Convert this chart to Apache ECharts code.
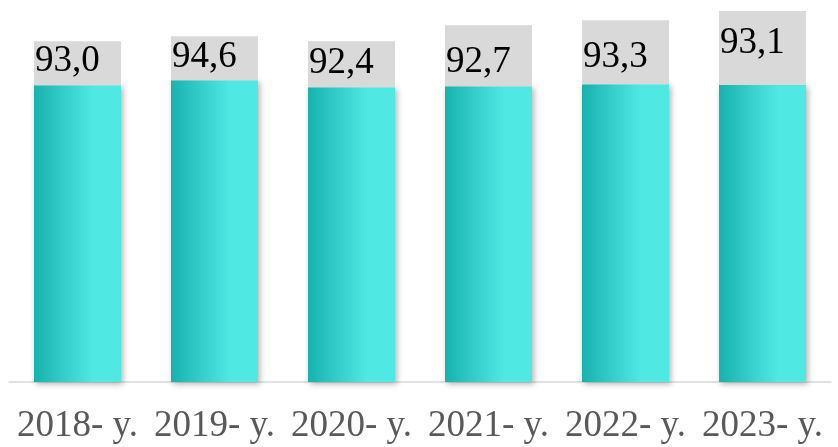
<!DOCTYPE html>
<html>
<head>
<meta charset="utf-8">
<script src="https://cdn.jsdelivr.net/npm/echarts@6/dist/echarts.min.js"></script>
<style>html,body{margin:0;padding:0;background:#fff;}#c{width:838px;height:447px;}</style>
</head>
<body>
<div id="c"></div>
<script>
const categories = ['2018- y.', '2019- y.', '2020- y.', '2021- y.', '2022- y.', '2023- y.'];
const values = [93.0, 94.6, 92.4, 92.7, 93.3, 93.1];

// label box layout (padding top / bottom in px), separate from data
const labelPadTop = [5, 6, 7, 22, 22, 17];
const labelPadBottom = [9, 8, 9, 9, 12, 27];

const chart = echarts.init(document.getElementById('c'), null, {renderer: 'canvas'});
const font = '"Liberation Serif", "Times New Roman", serif';

chart.setOption({
  animation: false,
  grid: {left: 9, right: 7, top: 63, bottom: 65, containLabel: false},
  xAxis: {
    type: 'category',
    data: categories,
    axisLine: {lineStyle: {color: '#d9d9d9', width: 1.5}},
    axisTick: {show: false},
    axisLabel: {color: '#595959', fontFamily: font, fontSize: 37, margin: 26, interval: 0}
  },
  yAxis: {type: 'value', min: 0, max: 100, show: false, splitLine: {show: false}},
  series: [{
    type: 'bar',
    barWidth: '63.5%',
    data: values.map((v, i) => ({
      value: v,
      label: {padding: [labelPadTop[i], 0, labelPadBottom[i], 1]}
    })),
    itemStyle: {
      color: new echarts.graphic.LinearGradient(0, 0, 1, 0, [
        {offset: 0, color: '#18b2ae'},
        {offset: 0.68, color: '#50e8e3'},
        {offset: 1, color: '#50e8e3'}
      ]),
      shadowColor: 'rgba(0,0,0,0.3)',
      shadowBlur: 6,
      shadowOffsetX: 2,
      shadowOffsetY: 2
    },
    label: {
      show: true,
      position: 'top',
      distance: 0,
      offset: [-43.5, 0],
      formatter: p => p.value.toFixed(1).replace('.', ','),
      fontFamily: font,
      fontSize: 37,
      color: '#000',
      lineHeight: 30,
      width: 86,
      align: 'left',
      backgroundColor: '#d9d9d9'
    }
  }]
});
</script>
</body>
</html>
